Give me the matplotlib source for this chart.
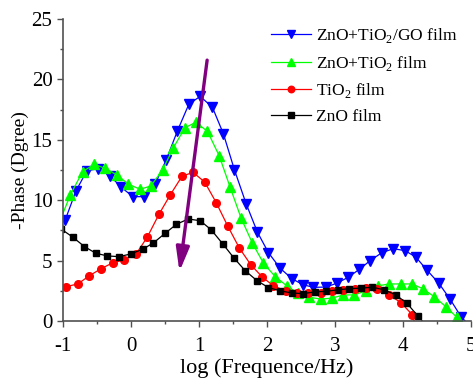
import matplotlib
matplotlib.use("Agg")
import matplotlib.pyplot as plt
from matplotlib.ticker import MultipleLocator

plt.rcParams['font.family'] = ['Liberation Serif', 'DejaVu Serif']
plt.rcParams['mathtext.fontset'] = 'custom'
plt.rcParams['mathtext.rm'] = 'Liberation Serif'
plt.rcParams['axes.unicode_minus'] = False

# ZnO+TiO2/GO film
x_go = [-0.966, -0.809, -0.647, -0.477, -0.305, -0.143, 0.029, 0.195, 0.356, 0.518,
        0.684, 0.852, 1.018, 1.198, 1.360, 1.522, 1.694, 1.860, 2.021, 2.193,
        2.365, 2.527, 2.683, 2.865, 3.026, 3.197, 3.359, 3.516, 3.688, 3.858,
        4.030, 4.190, 4.349, 4.525, 4.691, 4.857, 5.03]
y_go = [8.36, 10.76, 12.44, 12.6, 12.0, 11.07, 10.29, 10.29, 11.34, 13.33,
        15.75, 17.96, 18.6, 17.69, 15.48, 12.5, 9.69, 7.34, 5.65, 4.36,
        3.5, 3.0, 2.78, 2.8, 3.12, 3.62, 4.28, 4.99, 5.65, 5.98,
        5.82, 5.27, 4.22, 3.12, 1.8, 0.3, -0.67]

# ZnO+TiO2 film
x_zt = [-1.064, -0.893, -0.712, -0.540, -0.378, -0.206, -0.036, 0.136, 0.293, 0.464,
        0.625, 0.793, 0.954, 1.125, 1.297, 1.458, 1.620, 1.786, 1.948, 2.120,
        2.292, 2.453, 2.624, 2.791, 2.953, 3.123, 3.281, 3.457, 3.629, 3.795,
        3.967, 4.129, 4.290, 4.456, 4.628, 4.790, 4.96]
y_zt = [8.0, 10.4, 12.36, 12.97, 12.64, 12.09, 11.32, 10.9, 11.18, 12.5,
        14.35, 16.0, 16.45, 15.7, 13.68, 11.07, 8.5, 6.43, 4.78, 3.67,
        2.9, 2.29, 1.95, 1.81, 1.88, 2.15, 2.15, 2.5, 2.9, 3.06,
        3.06, 3.06, 2.67, 2.01, 1.18, 0.3, -0.75]

# TiO2 film
x_ti = [-0.952, -0.780, -0.614, -0.437, -0.261, -0.099, 0.077, 0.239, 0.415, 0.577,
        0.753, 0.915, 1.084, 1.253, 1.425, 1.595, 1.763, 1.933, 2.095, 2.277,
        2.447, 2.609, 2.791, 2.962, 3.123, 3.295, 3.457, 3.623, 3.795, 3.967,
        4.137, 4.307]
y_ti = [2.84, 3.06, 3.73, 4.33, 4.83, 5.05, 5.55, 6.93, 8.86, 10.43,
        12.0, 12.3, 11.5, 9.8, 7.83, 6.02, 4.64, 3.62, 2.9, 2.47,
        2.29, 2.27, 2.34, 2.46, 2.57, 2.67, 2.73, 2.62, 2.15, 1.52,
        0.5, -2.9]

# ZnO film
x_zn = [-1.024, -0.853, -0.683, -0.515, -0.345, -0.173, 0.0, 0.170, 0.331, 0.503,
        0.669, 0.841, 1.017, 1.179, 1.351, 1.517, 1.679, 1.851, 2.021, 2.193,
        2.365, 2.527, 2.708, 2.869, 3.041, 3.207, 3.379, 3.550, 3.722, 3.893,
        4.055, 4.217, 4.388]
y_zn = [7.6, 6.93, 6.15, 5.6, 5.38, 5.32, 5.55, 5.93, 6.46, 7.26,
        8.0, 8.44, 8.3, 7.55, 6.37, 5.19, 4.16, 3.34, 2.76, 2.49,
        2.31, 2.26, 2.4, 2.45, 2.57, 2.67, 2.71, 2.79, 2.57, 2.15,
        1.47, 0.41, -0.7]

a = 15  # 字体大小
fig = plt.figure(figsize=(4.73, 3.82), dpi=100)
ax = fig.add_axes([0.133, 0.160, 0.863, 0.790])

ax.plot(x_go, y_go, color='#0000ff', lw=0.9, marker='v', ms=6.5, label='ZnO+TiO$_2$/GO film')
ax.plot(x_zt, y_zt, color='#00ff00', lw=0.9, marker='^', ms=6.5, label='ZnO+TiO$_2$ film')
ax.plot(x_ti, y_ti, color='#ff0000', lw=0.9, marker='o', ms=5.5, label='TiO$_2$ film')
ax.plot(x_zn, y_zn, color='black', lw=0.9, marker='s', ms=5, label='ZnO film')

# 箭头
ax.annotate('', xy=(0.713, 4.08), xytext=(1.12, 21.6),
            arrowprops=dict(arrowstyle='-|>,head_length=1.2,head_width=0.33',
                            color='#800080', lw=2.4, mutation_scale=12,
                            shrinkA=0, shrinkB=0))

ax.set_xlim(-1, 5)
ax.set_ylim(0, 25)
ax.xaxis.set_major_locator(MultipleLocator(1))
ax.xaxis.set_minor_locator(MultipleLocator(0.5))
ax.yaxis.set_major_locator(MultipleLocator(5))
ax.yaxis.set_minor_locator(MultipleLocator(2.5))
ax.spines['top'].set_visible(False)
ax.spines['right'].set_visible(False)
for s in ['left', 'bottom']:
    ax.spines[s].set_color('#505050')
    ax.spines[s].set_linewidth(1.2)
ax.tick_params(which='major', length=4, width=1, color='#505050', labelsize=a, pad=3.5)
ax.tick_params(which='minor', length=2.5, width=1, color='#505050')
ax.tick_params(axis='x', which='major', pad=7.5)

ax.set_xlabel('log (Frequence/Hz)', size=16, labelpad=1.5)
ax.set_ylabel('-Phase (Dgree)', size=14, labelpad=2)

ax.legend(loc='upper right', bbox_to_anchor=(0.983, 1.0), borderaxespad=0,
          frameon=False, fontsize=12.5, handlelength=2.3, handletextpad=0.3,
          labelspacing=0.5, numpoints=1, markerscale=0.85)

fig.savefig('out.png', dpi=100)
